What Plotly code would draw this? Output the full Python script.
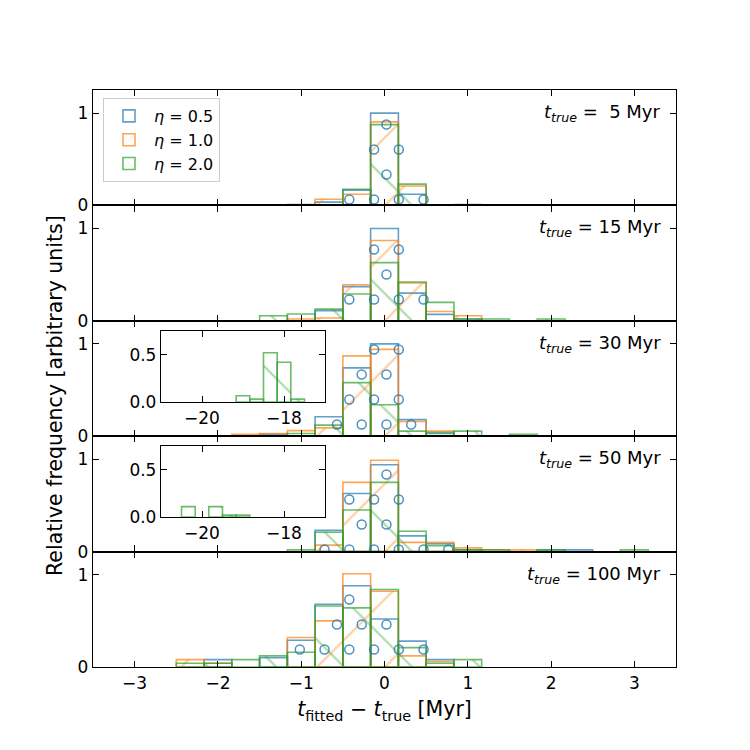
import plotly.graph_objects as go
from plotly.subplots import make_subplots

# ---------------- data ----------------
bin_centers = [-3.0, -2.667, -2.333, -2.0, -1.667, -1.333, -1.0, -0.667, -0.333, 0.0,
               0.333, 0.667, 1.0, 1.333, 1.667, 2.0, 2.333, 2.667, 3.0]
bin_width = 0.3333

t_true_labels = ["\u00a05", "15", "30", "50", "100"]
eta_labels = ["0.5", "1.0", "2.0"]

#            -3    -2.67 -2.33 -2    -1.67 -1.33 -1    -0.67 -0.33  0     0.33  0.67  1     1.33  1.67  2     2.33  2.67  3
blue_5    = [0,    0,    0,    0,    0,    0,    0,    0.036,0.165,1.0,  0.12, 0,    0,    0,    0,    0,    0,    0,    0]
orange_5  = [0,    0,    0,    0,    0,    0,    0,    0.066,0.12, 0.905,0.21, 0,    0,    0,    0,    0,    0,    0,    0]
green_5   = [0,    0,    0,    0,    0,    0,    0.01, 0,    0.175,0.875,0.23, 0,    0.01, 0,    0,    0,    0,    0,    0]

blue_15   = [0,    0,    0,    0,    0,    0,    0,    0.11, 0.37, 1.0,  0.3,  0.07, 0.02, 0,    0,    0,    0,    0,    0]
orange_15 = [0,    0,    0,    0,    0,    0,    0.02, 0.03, 0.39, 0.87, 0.41, 0.1,  0.055,0,    0,    0,    0,    0,    0]
green_15  = [0,    0,    0,    0,    0,    0.055,0.073,0.127,0.29, 0.63, 0.42, 0.2,  0.02, 0.02, 0,    0.02, 0,    0,    0]

blue_30   = [0,    0,    0,    0,    0,    0.02, 0,    0.21, 0.74, 1.0,  0.18, 0.03, 0,    0,    0,    0,    0,    0,    0]
orange_30 = [0,    0,    0,    0,    0.02, 0.03, 0.06, 0.09, 0.87, 0.94, 0.16, 0.055,0,    0,    0,    0,    0,    0,    0]
green_30  = [0,    0,    0,    0,    0,    0,    0.03, 0.12, 0.58, 0.34, 0.055,0.04, 0.055,0,    0.02, 0,    0,    0,    0]

blue_50   = [0,    0,    0,    0,    0,    0,    0,    0.23, 0.63, 0.94, 0.17, 0.085,0.02, 0,    0,    0.02, 0.02, 0,    0]
orange_50 = [0,    0,    0,    0,    0,    0,    0,    0.07, 0.75, 0.99, 0.1,  0.1,  0.04, 0.02, 0.02, 0,    0,    0,    0]
green_50  = [0,    0,    0,    0,    0,    0,    0.02, 0.21, 0.45, 0.75, 0.22, 0.065,0.02, 0.02, 0,    0.02, 0,    0,    0.02]

blue_100  = [0,    0,    0,    0.08, 0,    0.1,  0.29, 0.68, 0.88, 0.52, 0.28, 0.08, 0,    0,    0,    0,    0,    0,    0]
orange_100= [0,    0,    0.08, 0.04, 0,    0,    0.32, 0.5,  1.01, 0.82, 0.12, 0.06, 0,    0,    0,    0,    0,    0,    0]
green_100 = [0,    0,    0.04, 0.04, 0.08, 0.12, 0.16, 0.66, 0.64, 0.84, 0.21, 0.04, 0.08, 0,    0,    0,    0,    0,    0]

panels = [
    [blue_5, orange_5, green_5],
    [blue_15, orange_15, green_15],
    [blue_30, orange_30, green_30],
    [blue_50, orange_50, green_50],
    [blue_100, orange_100, green_100],
]

# inset histograms (eta = 2.0 outliers)
inset30_centers = [-19.0, -18.667, -18.333, -18.0, -17.667]
inset30_green = [0.066, 0.03, 0.52, 0.42, 0.03]
inset50_centers = [-20.333, -19.667, -19.333, -19.0]
inset50_green = [0.11, 0.11, 0.02, 0.02]

# ---------------- style ----------------
FONT = "DejaVu Sans"
FS = 17
FS_LABEL = 20.5
colors = ["rgba(31,119,180,0.7)", "rgba(255,127,14,0.7)", "rgba(44,160,44,0.7)"]
hatch_colors = ["rgba(31,119,180,0.8)", "rgba(255,127,14,0.8)", "rgba(44,160,44,0.8)"]
hatches = ["", "/", "\\"]

W, H = 750, 750
ML, MR, MT, MB = 93, 74, 90, 83
XR = (-3.5, 3.5)
YR = (0, 1.25)
plot_w = W - ML - MR
plot_h = H - MT - MB
panel_h = plot_h / 5.0

fig = make_subplots(rows=5, cols=1, shared_xaxes=True, vertical_spacing=0)


def add_hist(centers, heights, ci, row=None, xa=None, ya=None, legend=False):
    xs = [c for c, h in zip(centers, heights) if h > 0]
    ys = [h for h in heights if h > 0]
    pattern = dict(shape=hatches[ci], fgcolor=hatch_colors[ci], bgcolor="rgba(0,0,0,0)",
                   size=48, solidity=0.045, fillmode="overlay")
    tr = go.Bar(x=xs, y=ys, width=bin_width,
                marker=dict(color="rgba(0,0,0,0)", line=dict(color=colors[ci], width=1.6),
                            pattern=pattern),
                name="<i>\u03b7</i> = " + eta_labels[ci], showlegend=legend,
                legendgroup=str(ci))
    if row is not None:
        fig.add_trace(tr, row=row, col=1)
    else:
        tr.update(xaxis=xa, yaxis=ya)
        fig.add_trace(tr)


# circle hatch for blue bars (global grid in pixel space)
sx = plot_w / (XR[1] - XR[0])
sy = panel_h / (YR[1] - YR[0])
x0px = ML + plot_w / 2.0


def circle_points(heights, p):
    bottom = MT + panel_h * (p + 1)
    px_list, py_list = [], []
    for k in range(-4, 26):
        ypx = 124.5 + 25.0 * k
        yd = (bottom - ypx) / sy
        if yd < 0 or yd > YR[1]:
            continue
        start = 349.3 if k % 2 == 1 else 361.7
        for m in range(-12, 14):
            xpx = start + 24.75 * m
            xd = (xpx - x0px) / sx
            for c, h in zip(bin_centers, heights):
                if h > 0 and c - bin_width / 2 - 0.03 <= xd <= c + bin_width / 2 + 0.03 and yd <= h:
                    px_list.append(xd)
                    py_list.append(yd)
                    break
    return px_list, py_list


for p, series in enumerate(panels):
    row = p + 1
    for ci in range(3):
        add_hist(bin_centers, series[ci], ci, row=row, legend=(p == 0))
    cx, cy = circle_points(series[0], p)
    fig.add_trace(go.Scatter(x=cx, y=cy, mode="markers", showlegend=False, hoverinfo="skip",
                             marker=dict(symbol="circle-open", size=9, color=hatch_colors[0],
                                         line=dict(width=1.5, color=hatch_colors[0]))),
                  row=row, col=1)

# insets
add_hist(inset30_centers, inset30_green, 2, xa="x6", ya="y6")
add_hist(inset50_centers, inset50_green, 2, xa="x7", ya="y7")

axis_common = dict(showline=True, linecolor="black", linewidth=1.3, mirror="ticks",
                   ticks="inside", ticklen=6, tickwidth=1.2, tickcolor="black",
                   showgrid=False, zeroline=False,
                   tickfont=dict(family=FONT, size=FS, color="black"))

for r in range(1, 6):
    fig.update_xaxes(range=list(XR), tickvals=[-3, -2, -1, 0, 1, 2, 3], row=r, col=1, **axis_common)
    fig.update_yaxes(range=list(YR), tickvals=[0, 1], ticktext=["0", "1"], row=r, col=1, **axis_common)

fig.update_xaxes(title=dict(text="<i>t</i><sub>fitted</sub> \u2212 <i>t</i><sub>true</sub> [Myr]",
                            font=dict(family=FONT, size=FS_LABEL, color="black"), standoff=10),
                 row=5, col=1)


def px2paper_x(px):
    return (px - ML) / plot_w


def px2paper_y(py):
    return (H - MB - py) / plot_h


inset_axis = dict(axis_common)
fig.update_layout(
    xaxis6=dict(domain=[px2paper_x(161), px2paper_x(325)], anchor="y6", range=[-21, -17],
                tickvals=[-20, -18], **inset_axis),
    yaxis6=dict(domain=[px2paper_y(402), px2paper_y(331)], anchor="x6", range=[0, 0.75],
                tickvals=[0, 0.5], ticktext=["0.0", "0.5"], **inset_axis),
    xaxis7=dict(domain=[px2paper_x(161), px2paper_x(325)], anchor="y7", range=[-21, -17],
                tickvals=[-20, -18], **inset_axis),
    yaxis7=dict(domain=[px2paper_y(517), px2paper_y(446)], anchor="x7", range=[0, 0.75],
                tickvals=[0, 0.5], ticktext=["0.0", "0.5"], **inset_axis),
)

# panel labels
for p, lab in enumerate(t_true_labels):
    yref = "y domain" if p == 0 else "y%d domain" % (p + 1)
    fig.add_annotation(xref="paper", yref=yref, x=px2paper_x(663), y=0.8,
                       xanchor="right", yanchor="middle", showarrow=False,
                       text="<i>t</i><sub><i>true</i></sub> = " + lab + " Myr",
                       font=dict(family=FONT, size=18, color="black"))

fig.add_annotation(xref="paper", yref="paper", x=px2paper_x(55), y=px2paper_y(396), textangle=-90,
                   xanchor="center", yanchor="middle", showarrow=False,
                   text="Relative frequency [arbitrary units]",
                   font=dict(family=FONT, size=FS_LABEL, color="black"))

fig.update_layout(
    width=W, height=H, margin=dict(l=ML, r=MR, t=MT, b=MB),
    paper_bgcolor="white", plot_bgcolor="white", barmode="overlay",
    font=dict(family=FONT, size=FS, color="black"),
    legend=dict(x=px2paper_x(103), y=px2paper_y(98), xanchor="left", yanchor="top",
                bgcolor="rgba(255,255,255,0.8)", bordercolor="#cccccc", borderwidth=1,
                font=dict(family=FONT, size=16, color="black"), tracegroupgap=0,
                itemwidth=40, traceorder="normal"),
)

fig.write_html("out.html")
